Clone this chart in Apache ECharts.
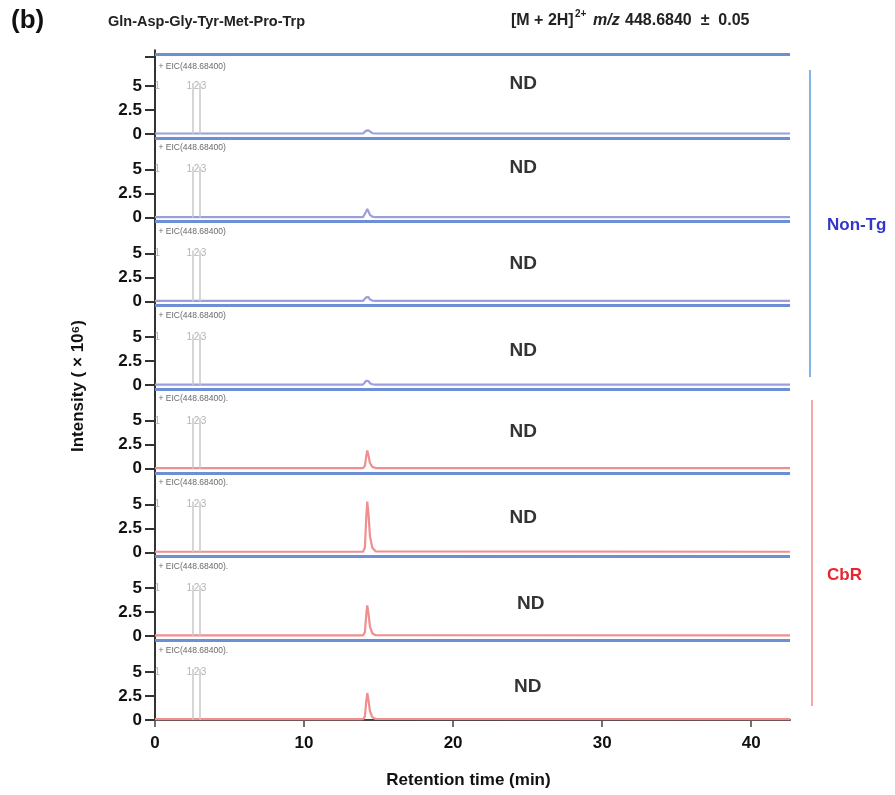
<!DOCTYPE html>
<html>
<head>
<meta charset="utf-8">
<script src="https://cdn.jsdelivr.net/npm/echarts@6/dist/echarts.min.js"></script>
<style>html,body{margin:0;padding:0;background:#fff;}#chart{width:895px;height:795px;}</style>
</head>
<body>
<div id="chart"></div>
<script>
// ---- data ----
const panelGroups = ['Non-Tg','Non-Tg','Non-Tg','Non-Tg','CbR','CbR','CbR','CbR'];
const timeMin = [0, 13.95, 14.08, 14.17, 14.24, 14.32, 14.42, 14.58, 14.8, 42.6];
const trace1 = [0.05, 0.05, 0.15, 0.35, 0.5, 0.38, 0.18, 0.08, 0.05, 0.05];
const trace2 = [0.05, 0.05, 0.2, 0.65, 0.9, 0.65, 0.3, 0.12, 0.05, 0.05];
const trace3 = [0.05, 0.05, 0.15, 0.42, 0.6, 0.45, 0.2, 0.09, 0.05, 0.05];
const trace4 = [0.05, 0.05, 0.15, 0.45, 0.6, 0.42, 0.2, 0.09, 0.05, 0.05];
const trace5 = [0.08, 0.08, 0.3, 1.3, 1.9, 1.4, 0.6, 0.2, 0.08, 0.08];
const trace6 = [0.08, 0.08, 0.5, 3.6, 5.3, 4.1, 1.7, 0.5, 0.12, 0.08];
const trace7 = [0.08, 0.08, 0.4, 2.2, 3.2, 2.4, 1.0, 0.3, 0.1, 0.08];
const trace8 = [0.08, 0.08, 0.35, 1.9, 2.8, 2.1, 0.9, 0.28, 0.1, 0.08];
const traces = [trace1, trace2, trace3, trace4, trace5, trace6, trace7, trace8];
const markerTimes = [2.55, 3.02];
const markerTop = 5.3;
const markerLabels = ['1', '1', '2', '3'];
const markerLabelTimes = [0.15, 2.3, 2.78, 3.25];
const markerLabelY = 5.0;
const eicText = '+ EIC(448.68400)';
const eicY = [7.0, 7.3, 7.3, 7.2, 7.3, 7.3, 7.2, 7.2];
const ndX = [24.7, 24.7, 24.7, 24.7, 24.7, 24.7, 25.2, 25.0];
const ndY = [5.2, 5.2, 3.9, 3.6, 3.9, 3.6, 3.4, 3.5];
const yTicks = [0, 2.5, 5];
const xTicks = [0, 10, 20, 30, 40];
const xMax = 42.6;
const topBorderValue = 8.3;

// ---- layout ----
const FONT = "'Liberation Sans', Arial, sans-serif";
const firstZero = 134, pitch = 83.7, left = 155, right = 105;
const yMax = pitch * 5 / 48;
const colors = { 'Non-Tg': '#9a9de0', 'CbR': '#ef8f8f' };

const grids = [], xAxes = [], yAxes = [], series = [];
traces.forEach((tr, i) => {
  const zero = firstZero + pitch * i;
  grids.push({ left: left, right: right, top: zero - pitch, height: pitch });
  const last = i === traces.length - 1;
  xAxes.push({
    gridIndex: i, type: 'value', min: 0, max: xMax, interval: 10,
    axisLine: { show: last, onZero: false, lineStyle: { color: '#444', width: 2 } },
    axisTick: { show: last, length: 7, customValues: xTicks, lineStyle: { color: '#444', width: 1.5 } },
    axisLabel: { show: last, customValues: xTicks, color: '#111', fontFamily: FONT, fontWeight: 'bold', fontSize: 17, margin: 15 },
    splitLine: { show: false },
    name: last ? 'Retention time (min)' : '', nameLocation: 'middle', nameGap: 52,
    nameTextStyle: { color: '#111', fontFamily: FONT, fontWeight: 'bold', fontSize: 17, padding: [0, 8, 0, 0] }
  });
  yAxes.push({
    gridIndex: i, type: 'value', min: 0, max: yMax,
    axisLine: { show: true, lineStyle: { color: '#333', width: 2 } },
    axisTick: { show: true, length: 10, lineStyle: { color: '#333', width: 2 },
      customValues: i === 0 ? yTicks.concat([8.0]) : yTicks },
    axisLabel: { show: true, customValues: yTicks, color: '#111', fontFamily: FONT, fontWeight: 'bold', fontSize: 17, margin: 13 },
    splitLine: { show: false }
  });
  const col = colors[panelGroups[i]];
  const mlData = [{ yAxis: topBorderValue, lineStyle: { color: '#6d8fd6', width: 3, type: 'solid' } }];
  markerTimes.forEach(t => mlData.push([
    { coord: [t, 0], lineStyle: { color: '#c9c9c9', width: 1.5, type: 'solid' } },
    { coord: [t, markerTop] }
  ]));
  series.push({
    type: 'line', xAxisIndex: i, yAxisIndex: i, silent: true, animation: false,
    data: timeMin.map((t, k) => [t, tr[k]]), symbol: 'none',
    lineStyle: { color: col, width: 2.2 }, z: 3,
    markLine: { silent: true, symbol: 'none', animation: false, label: { show: false }, data: mlData }
  });
  const txt = [];
  txt.push({ value: [0.2, eicY[i]], label: { formatter: eicText + (panelGroups[i] === 'CbR' ? '.' : ''), position: 'right', distance: 0,
    color: '#444', fontSize: 8.5, fontFamily: "'Liberation Sans Narrow', 'Liberation Sans', sans-serif" } });
  markerLabels.forEach((m, k) => txt.push({ value: [markerLabelTimes[k], markerLabelY],
    label: { formatter: m, position: 'inside', color: '#a0a0a0', fontSize: 10, fontFamily: FONT } }));
  txt.push({ value: [ndX[i], ndY[i]], label: { formatter: 'ND', position: 'inside', color: '#000', fontSize: 19, fontWeight: 'bold', fontFamily: FONT } });
  series.push({
    type: 'scatter', xAxisIndex: i, yAxisIndex: i, silent: true, animation: false,
    symbolSize: 1, itemStyle: { color: 'rgba(0,0,0,0)' },
    label: { show: true }, data: txt, z: 5
  });
});

const HS = { fontFamily: FONT, fontWeight: 'bold', fontSize: 16, fill: '#222' };
const chart = echarts.init(document.getElementById('chart'), null, { renderer: 'canvas' });
chart.setOption({
  backgroundColor: '#fff',
  animation: false,
  grid: grids, xAxis: xAxes, yAxis: yAxes, series: series,
  graphic: [
    { type: 'text', left: 11, top: 8, style: { text: '(b)', fontFamily: FONT, fontWeight: 'bold', fontSize: 26, fill: '#111' } },
    { type: 'text', left: 108, top: 14, style: { text: 'Gln-Asp-Gly-Tyr-Met-Pro-Trp', fontFamily: FONT, fontWeight: 'bold', fontSize: 14.5, fill: '#222' } },
    { type: 'text', left: 511, top: 13, style: Object.assign({ text: '[M + 2H]' }, HS) },
    { type: 'text', left: 575, top: 9, style: Object.assign({}, HS, { text: '2+', fontSize: 10 }) },
    { type: 'text', left: 593, top: 13, style: Object.assign({}, HS, { text: 'm/z', fontStyle: 'italic' }) },
    { type: 'text', left: 625, top: 13, style: Object.assign({}, HS, { text: '448.6840  ±  0.05' }) },
    { type: 'text', x: 78, y: 386, rotation: Math.PI / 2, style: { text: 'Intensity ( × 10⁶)', fontFamily: FONT, fontWeight: 'bold', fontSize: 17, fill: '#111', align: 'center', verticalAlign: 'middle' } },
    { type: 'line', shape: { x1: 810, y1: 70, x2: 810, y2: 377 }, style: { stroke: '#5b9bd5', lineWidth: 1.5 } },
    { type: 'text', left: 827, top: 217, style: { text: 'Non-Tg', fontFamily: FONT, fontWeight: 'bold', fontSize: 17, fill: '#3535c8' } },
    { type: 'line', shape: { x1: 812, y1: 400, x2: 812, y2: 706 }, style: { stroke: '#f28b8b', lineWidth: 1.5 } },
    { type: 'text', left: 827, top: 567, style: { text: 'CbR', fontFamily: FONT, fontWeight: 'bold', fontSize: 17, fill: '#e8262d' } }
  ]
});
</script>
</body>
</html>
